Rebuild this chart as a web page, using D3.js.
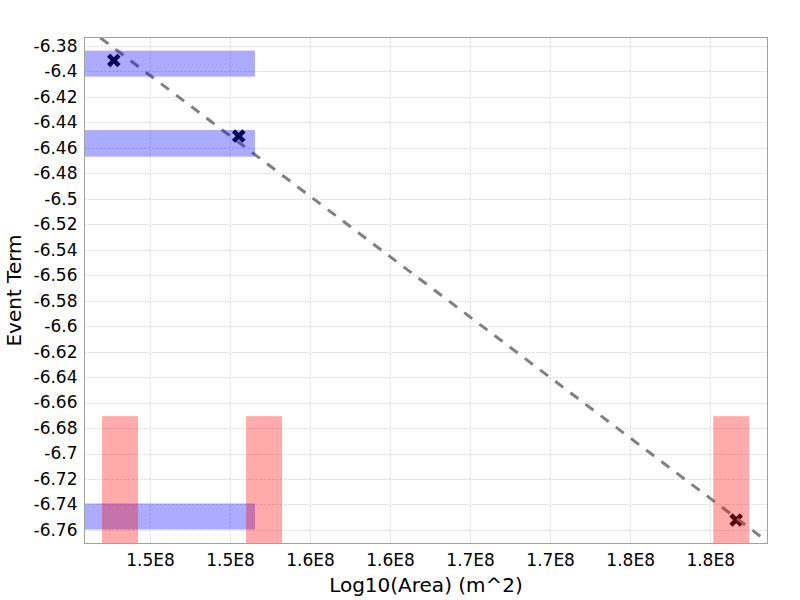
<!DOCTYPE html>
<html>
<head>
<meta charset="utf-8">
<script src="https://cdn.jsdelivr.net/npm/d3@7"></script>
<style>
  html, body { margin: 0; padding: 0; background: #fff; }
  svg { display: block; font-family: "DejaVu Sans", sans-serif; }
</style>
</head>
<body>
<svg id="chart" width="800" height="600"></svg>
<script>
// ---------- data ----------
const xTickValues = [1.45e8, 1.50e8, 1.55e8, 1.60e8, 1.65e8, 1.70e8, 1.75e8, 1.80e8];
const xTickLabels = ["1.5E8", "1.5E8", "1.6E8", "1.6E8", "1.7E8", "1.7E8", "1.8E8", "1.8E8"];
const yTickValues = [-6.38, -6.40, -6.42, -6.44, -6.46, -6.48, -6.50, -6.52, -6.54, -6.56,
                     -6.58, -6.60, -6.62, -6.64, -6.66, -6.68, -6.70, -6.72, -6.74, -6.76];
const yTickLabels = ["-6.38", "-6.4", "-6.42", "-6.44", "-6.46", "-6.48", "-6.5", "-6.52", "-6.54", "-6.56",
                     "-6.58", "-6.6", "-6.62", "-6.64", "-6.66", "-6.68", "-6.7", "-6.72", "-6.74", "-6.76"];
const xDomain = [1.40906e8, 1.83581e8];
const yDomain = [-6.7706, -6.3736];

// horizontal (blue) ranges: y-range, x-range
const blueY0 = [-6.3839, -6.4462, -6.7392];
const blueY1 = [-6.4043, -6.4671, -6.7596];
const blueX0 = [1.40e8, 1.40e8, 1.40e8];
const blueX1 = [1.5156e8, 1.5156e8, 1.5156e8];

// vertical (red) ranges: x-range, y-range
const redX0 = [1.4200e8, 1.5100e8, 1.8019e8];
const redX1 = [1.4425e8, 1.5325e8, 1.8244e8];
const redY0 = [-6.6707, -6.6707, -6.6707];
const redY1 = [-6.80, -6.80, -6.80];

// points
const pointX = [1.42738e8, 1.50544e8, 1.81625e8];
const pointY = [-6.3916, -6.4509, -6.7522];

// fitted line endpoints
const fitX = [1.40e8, 1.84e8];
const fitY = [-6.3559, -6.7731];

// ---------- layout ----------
const svg = d3.select("#chart");
const L = 84.5, T = 37.5, R = 767.5, B = 543.5;

const x = d3.scaleLinear().domain(xDomain).range([L, R]);
const y = d3.scaleLinear().domain(yDomain).range([B, T]);

svg.append("defs").append("clipPath").attr("id", "plotclip")
  .append("rect").attr("x", L).attr("y", T).attr("width", R - L).attr("height", B - T);

// gridlines
const grid = svg.append("g");
grid.selectAll("line.gx").data(xTickValues).join("line")
  .attr("x1", d => Math.round(x(d)) + 0.5).attr("x2", d => Math.round(x(d)) + 0.5)
  .attr("y1", T).attr("y2", B)
  .attr("stroke", "#d4d4d4").attr("stroke-width", 1).attr("stroke-dasharray", "2,2");
grid.selectAll("line.gy").data(yTickValues).join("line")
  .attr("y1", d => Math.round(y(d)) + 0.5).attr("y2", d => Math.round(y(d)) + 0.5)
  .attr("x1", L).attr("x2", R)
  .attr("stroke", "#d4d4d4").attr("stroke-width", 1).attr("stroke-dasharray", "2,2");

const plot = svg.append("g").attr("clip-path", "url(#plotclip)");

// points (black crosses, beneath translucent bars)
const s = 5.2;
plot.selectAll("path.pt").data(pointX.map((v, i) => [v, pointY[i]])).join("path")
  .attr("d", d => {
    const cx = x(d[0]), cy = y(d[1]);
    return `M${cx - s},${cy - s}L${cx + s},${cy + s}M${cx - s},${cy + s}L${cx + s},${cy - s}`;
  })
  .attr("stroke", "#000").attr("stroke-width", 4.5).attr("fill", "none");

// fitted dashed line
plot.append("path")
  .datum(fitX.map((v, i) => [v, fitY[i]]))
  .attr("d", d3.line().x(d => x(d[0])).y(d => y(d[1])))
  .attr("stroke", "#808080").attr("stroke-width", 3).attr("fill", "none")
  .attr("stroke-dasharray", "10,9");

// blue horizontal bars
plot.selectAll("rect.blue").data(blueY0.map((v, i) => i)).join("rect")
  .attr("x", i => x(blueX0[i])).attr("width", i => x(blueX1[i]) - x(blueX0[i]))
  .attr("y", i => y(blueY0[i])).attr("height", i => y(blueY1[i]) - y(blueY0[i]))
  .attr("fill", "rgba(0,0,255,0.33)");

// red vertical bars
plot.selectAll("rect.red").data(redX0.map((v, i) => i)).join("rect")
  .attr("x", i => x(redX0[i])).attr("width", i => x(redX1[i]) - x(redX0[i]))
  .attr("y", i => y(redY0[i])).attr("height", i => y(redY1[i]) - y(redY0[i]))
  .attr("fill", "rgba(255,0,0,0.33)");

// border
svg.append("rect").attr("x", L).attr("y", T).attr("width", R - L).attr("height", B - T)
  .attr("fill", "none").attr("stroke", "#a0a0a0").attr("stroke-width", 1);

// axes (labels only, no tick marks)
const xAxis = d3.axisBottom(x).tickValues(xTickValues)
  .tickFormat((d, i) => xTickLabels[i]).tickSize(0).tickPadding(0);
const gx = svg.append("g").attr("transform", `translate(0,${B})`).call(xAxis);
gx.select(".domain").remove();
gx.selectAll("text").attr("font-family", "DejaVu Sans").attr("font-size", 17)
  .attr("fill", "#000").attr("dy", null).attr("y", 22.5);

const yAxis = d3.axisLeft(y).tickValues(yTickValues)
  .tickFormat((d, i) => yTickLabels[i]).tickSize(0).tickPadding(7);
const gy = svg.append("g").attr("transform", `translate(${L},0)`).call(yAxis);
gy.select(".domain").remove();
gy.selectAll("text").attr("font-family", "DejaVu Sans").attr("font-size", 17)
  .attr("fill", "#000");

// axis titles
svg.append("text").attr("x", (L + R) / 2).attr("y", 592)
  .attr("text-anchor", "middle").attr("font-size", 20).attr("fill", "#000")
  .text("Log10(Area) (m^2)");
svg.append("text")
  .attr("transform", `translate(21,${(T + B) / 2}) rotate(-90)`)
  .attr("text-anchor", "middle").attr("font-size", 20).attr("fill", "#000")
  .text("Event Term");
</script>
</body>
</html>
